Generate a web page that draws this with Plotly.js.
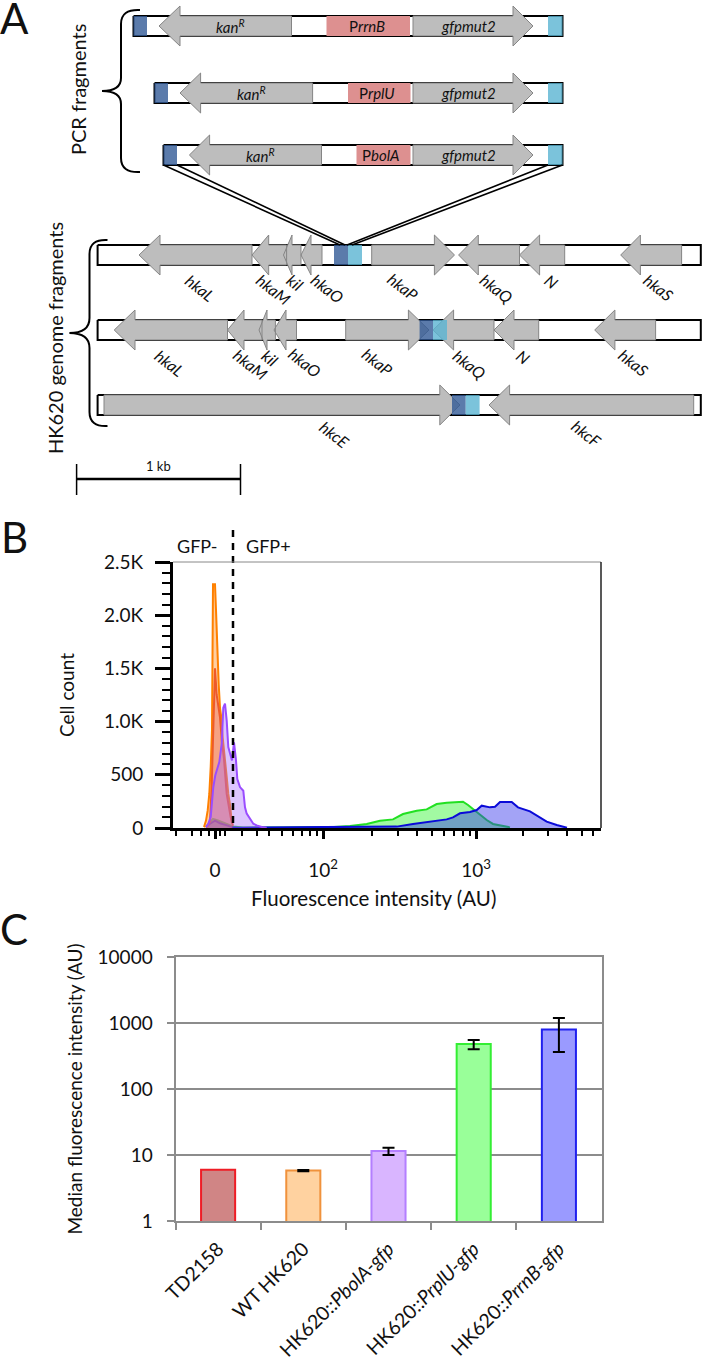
<!DOCTYPE html>
<html><head><meta charset="utf-8">
<script src="https://cdn.plot.ly/plotly-3.0.1.min.js"></script>
<style>html,body{margin:0;padding:0;background:#fff}</style></head>
<body><div id="chart" style="width:702px;height:1362px"></div>
<script>
var FONT='Lato, "Open Sans", sans-serif';
// ---- Panel A data (positions along the drawn map)
var trackCenter=[26,93,155,255,330,405];
var trackStart=[133.5,154.5,163.5,97.6,97.6,97.6];
var trackEnd=[562.5,562.5,562.5,700.8,700.8,700.8];
var geneRow =[0,0, 1,1, 2,2, 3,3,3,3,3,3,3,3, 4,4,4,4,4,4,4,4, 5,5];
var geneTail=[291.5,413, 312.6,413, 321.5,413, 252,286.6,301,322,371.7,519.5,564.7,681.6, 227.5,262,275.4,296.5,345.7,494,538.7,655.6, 104,693.7];
var geneBase=[180,513, 200.6,513, 209.6,513, 160,268.7,292,311,434.4,478.3,539.6,640.4, 135,244,267,286,408.4,453.6,514,614.9, 439.8,509.6];
var geneTip =[159,533, 180,533, 189.4,533, 139,252,283.5,301,454.5,458.6,519.5,620.7, 114.2,227.5,259,274,429,433,494,594.7, 460,489];
var pinkRow=[0,1,2], pinkStart=[326.5,348,356.5], pinkEnd=[410,410.5,410.5];
var blueRow=[0,1,2,3,4,5], blueStart=[133.5,154.5,163.5,334,419.6,452], blueEnd=[147,168,177,348,433,465.7];
var cyanRow=[0,1,2,3,4,5], cyanStart=[548,548,548,348,433,465.7], cyanEnd=[562.5,562.5,562.5,362,447,479.6];
var pcrText=['<i>kan<sup>R</sup></i>','P<i>rrnB</i>','<i>gfpmut2</i>','<i>kan<sup>R</sup></i>','P<i>rplU</i>','<i>gfpmut2</i>','<i>kan<sup>R</sup></i>','P<i>bolA</i>','<i>gfpmut2</i>'];
var pcrTextX=[230,367,468,251,377,468,260,381,468];
var pcrTextY=[26,26,26,93,93,93,155,155,155];
var geneLabel=['hkaL','hkaM','kil','hkaO','hkaP','hkaQ','N','hkaS','hkaL','hkaM','kil','hkaO','hkaP','hkaQ','N','hkaS','hkcE','hkcF'];
var geneLabelX=[200,274,295.6,328,403,497,551.7,659,169,251,270,305,377,470,523,633.7,335,586.7];
var geneLabelY=[287,289,282,288,286,288,281,287,362.7,364,357,362.7,361.7,364,356,362,434,433];
var crossX=[[163.5,340],[177,345],[548,347],[562.5,352]];
var crossY=[165,245];
// ---- Panel B data (x in display channels of the biexponential axis)
var orangeX=[31,33,34.7,36.3,37.7,39,40,42,43,44.3,45.7,47,48.3,49.7,52,53.7,55.3,57,59];
var orangeY=[10,70,165,320,575,920,2290,2290,2050,1600,1350,1130,1040,850,660,480,320,220,40];
var redX=[34,37,38.7,40,42,43.7,47,49,51,53.7,55.7,57.7,60];
var redY=[5,60,400,800,1500,1250,1040,800,650,320,200,100,20];
var purpleX=[33,35.3,37.7,40.3,42.3,44.3,46.3,48.7,50.3,52,53.7,55.3,57,59,61,63,64.3,67,70.3,72,73.7,77,80.3,83.7,88.7,93.7];
var purpleY=[10,40,105,385,495,570,620,790,1130,1170,1010,760,695,635,805,635,460,385,350,195,135,90,40,25,10,3];
var greenX=[33,37,40,45,53,60,70,85,100,110,130,150,157,177,193.7,207,220,230,243.7,253.7,263.7,273.7,283.7,290,295,301,307,313.7,320,328.7,337];
var greenY=[10,55,85,70,40,15,5,3,5,5,8,10,6,19,38,69,81,131,163,175,225,238,244,247,216,169,122,75,38,19,6];
var blueHX=[33,37,42,47,54,59,65,193.7,223.7,240,257,273.7,280,287,297,303.7,308.7,317,322,327,338.7,345,357,365,373.7,383.7,394];
var blueHY=[8,40,70,45,25,8,3,6,13,38,60,81,100,138,150,169,210,194,200,244,244,194,156,113,60,28,3];
var bTickVals=[42,150,303];
var bTickText=['0','10<sup>2</sup>','10<sup>3</sup>'];
var bMinorTicks=[3,19,28,36,47,52,69,84,96,109,120,129,137,144,199,225,244,259,271,281,290,297,350,375,394,409,420];
var bYTickVals=[0,500,1000,1500,2000,2500];
var bYTickText=['0','500','1.0K','1.5K','2.0K','2.5K'];
// ---- Panel C data
var strains=['TD2158','WT HK620','HK620::<i>PbolA-gfp</i>','HK620::<i>PrplU-gfp</i>','HK620::<i>PrrnB-gfp</i>'];
var medians=[6,5.8,11.5,480,800];
var errUp=[NaN,0.15,1.4,72,390];
var errDown=[NaN,0.15,1.5,81,437];
var barFill=['#d08585','#ffd2a0','#d9b5ff','#99ff99','#9a9aff'];
var barLine=['#ee1c25','#f0923c','#b47fff','#33ee33','#2020ee'];
var cYTicks=[1,10,100,1000,10000];

function rowPoly(xs,ys,x0,x1,cy,hb){xs.push(x0,x1,x1,x0,x0,null);ys.push(cy-hb,cy-hb,cy+hb,cy+hb,cy-hb,null);}
function rects(rows,st,en,color,name){var X=[],Y=[];rows.forEach(function(r,i){rowPoly(X,Y,st[i],en[i],trackCenter[r],10);});
  return {x:X,y:Y,xaxis:'x3',yaxis:'y3',mode:'lines',fill:'toself',fillcolor:color,line:{width:0,color:color},hoverinfo:'skip',name:name};}
var tX=[],tY=[];trackCenter.forEach(function(c,i){rowPoly(tX,tY,trackStart[i],trackEnd[i],c,10);});
var aX=[],aY=[];geneTail.forEach(function(t,i){var c=trackCenter[geneRow[i]],b=geneBase[i],p=geneTip[i];
  aX.push(t,b,b,p,b,b,t,t,null);aY.push(c-10,c-10,c-20,c,c+20,c+10,c+10,c-10,null);});
var traces=[];
function hist(x,y,line,fill,name){traces.push({x:x,y:y,xaxis:'x',yaxis:'y',type:'scatter',mode:'lines',line:{shape:'linear',color:line,width:2},fill:'tozeroy',fillcolor:fill,hoverinfo:'skip',name:name});}
hist(greenX,greenY,'#22e022','rgba(70,245,70,0.5)','HK620::PrplU-gfp');
hist(blueHX,blueHY,'#0a0ad8','rgba(50,50,235,0.45)','HK620::PrrnB-gfp');
hist(orangeX,orangeY,'#ff8000','rgba(255,160,70,0.5)','WT HK620');
hist(redX,redY,'#ee5a2a','rgba(225,60,60,0.3)','TD2158');
hist(purpleX,purpleY,'#9a4dff','rgba(170,110,255,0.4)','HK620::PbolA-gfp');
traces.push({x:strains,y:medians,xaxis:'x2',yaxis:'y2',type:'bar',width:0.4,marker:{color:barFill,line:{color:barLine,width:2}},
  error_y:{type:'data',symmetric:false,array:errUp,arrayminus:errDown,color:'#000',thickness:2,width:6},hoverinfo:'skip'});
traces.push({x:tX,y:tY,xaxis:'x3',yaxis:'y3',mode:'lines',fill:'toself',fillcolor:'#fff',line:{color:'#000',width:2},hoverinfo:'skip'});
traces.push(rects(pinkRow,pinkStart,pinkEnd,'#dd9090','promoter'));
traces.push({x:aX,y:aY,xaxis:'x3',yaxis:'y3',mode:'lines',fill:'toself',fillcolor:'#bdbdbd',line:{color:'#858585',width:1},hoverinfo:'skip'});
traces.push(rects(blueRow,blueStart,blueEnd,'rgba(50,90,150,0.8)','left homology'));
traces.push(rects(cyanRow,cyanStart,cyanEnd,'rgba(90,180,210,0.8)','right homology'));
crossX.forEach(function(c){traces.push({x:c,y:crossY,xaxis:'x3',yaxis:'y3',mode:'lines',line:{color:'#000',width:1.6},hoverinfo:'skip'});});
traces.push({x:[233,233],y:[530,830],xaxis:'x3',yaxis:'y3',mode:'lines',line:{color:'#000',width:2.5,dash:'7px,6px'},hoverinfo:'skip'});
traces.push({x:[76.6,240.5],y:[479,479],xaxis:'x3',yaxis:'y3',mode:'lines',line:{color:'#000',width:2.5},hoverinfo:'skip'});
traces.push({x:[76.6,76.6],y:[464,495],xaxis:'x3',yaxis:'y3',mode:'lines',line:{color:'#000',width:1.5},hoverinfo:'skip'});
traces.push({x:[240.5,240.5],y:[464,495],xaxis:'x3',yaxis:'y3',mode:'lines',line:{color:'#000',width:1.5},hoverinfo:'skip'});

function ann(t,x,y,size,extra){var a={text:t,x:x,y:y,xref:'x3',yref:'y3',showarrow:false,xanchor:'center',yanchor:'middle',font:{family:FONT,size:size,color:'#111'}};
  for(var k in (extra||{}))a[k]=extra[k];return a;}
var anns=[ann('A',14,18,42),ann('B',14,537,42),ann('C',14,929,42),
  ann('PCR fragments',78,90,20,{textangle:-90}),ann('HK620 genome fragments',55,338,20,{textangle:-90}),
  ann('1 kb',158,466,13),ann('GFP-',197,546,18),ann('GFP+',268,546,18),
  ann('Fluorescence intensity (AU)',373,898,20.5)];
pcrText.forEach(function(t,i){anns.push(ann(t,pcrTextX[i],pcrTextY[i],15));});
geneLabel.forEach(function(t,i){anns.push(ann('<i>'+t+'</i>',geneLabelX[i],geneLabelY[i],16,{textangle:38}));});

var W=702,H=1362;
function dx(a,b){return [a/W,b/W];} function dy(t,b){return [1-b/H,1-t/H];}
var braceStyle={color:'#000',width:2};
var layout={width:W,height:H,margin:{l:0,r:0,t:0,b:0},paper_bgcolor:'#fff',plot_bgcolor:'rgba(0,0,0,0)',showlegend:false,font:{family:FONT,color:'#111'},
 xaxis:{domain:dx(173,601),range:[0,428],anchor:'y',showgrid:false,zeroline:false,showline:true,linecolor:'#000',linewidth:3,ticks:'outside',ticklen:8,tickwidth:3,tickcolor:'#000',tickmode:'array',tickvals:bTickVals,ticktext:bTickText,tickfont:{size:19},ticklabelstandoff:15,
   minor:{tickmode:'array',tickvals:bMinorTicks,ticks:'outside',ticklen:5,tickwidth:2,tickcolor:'#000',showgrid:false}},
 yaxis:{domain:dy(562,828),range:[0,2500],anchor:'x',showgrid:false,zeroline:false,showline:true,linecolor:'#000',linewidth:3,ticks:'outside',ticklen:15,tickwidth:3,tickcolor:'#000',tickmode:'array',tickvals:bYTickVals,ticktext:bYTickText,tickfont:{size:19},ticklabelstandoff:8,
   minor:{dtick:100,ticks:'outside',ticklen:8,tickwidth:2,tickcolor:'#000',showgrid:false},
   title:{text:'Cell count',font:{size:19},standoff:25}},
 xaxis2:{domain:dx(175.5,601.5),anchor:'y2',type:'category',categoryorder:'array',categoryarray:strains,range:[-0.5,4.5],showgrid:false,zeroline:false,showline:true,mirror:true,linecolor:'#8c8c8c',linewidth:2,ticks:'outside',tickson:'boundaries',ticklen:7,tickwidth:2,tickcolor:'#8c8c8c',tickangle:-45,tickfont:{size:19.5},ticklabelstandoff:7},
 yaxis2:{domain:dy(957,1221),type:'log',range:[0,4],anchor:'x2',showgrid:true,gridcolor:'#8c8c8c',gridwidth:2,zeroline:false,showline:true,mirror:true,linecolor:'#8c8c8c',linewidth:2,ticks:'outside',ticklen:7,tickwidth:2,tickcolor:'#8c8c8c',tickmode:'array',tickvals:cYTicks,ticktext:cYTicks.map(String),tickfont:{size:19},ticklabelstandoff:10,
   title:{text:'Median fluorescence intensity (AU)',font:{size:19},standoff:10}},
 xaxis3:{domain:[0,1],range:[0,W],anchor:'y3',visible:false,fixedrange:true},
 yaxis3:{domain:[0,1],range:[H,0],anchor:'x3',visible:false,fixedrange:true},
 annotations:anns,
 shapes:[
  {type:'line',xref:'x3',yref:'y3',x0:173,x1:601,y0:562,y1:562,line:{color:'#888',width:1}},
  {type:'line',xref:'x3',yref:'y3',x0:601,x1:601,y0:562,y1:828,line:{color:'#222',width:1.5}},
  {type:'path',xref:'x3',yref:'y3',path:'M140,10 Q121,9 121,24 L121,78 Q121,91 102,91 Q121,91 121,104 L121,158 Q121,173 140,172',line:braceStyle},
  {type:'path',xref:'x3',yref:'y3',path:'M107.5,240 Q89.5,239 89.5,254 L89.5,318 Q89.5,333 69.4,333 Q89.5,333 89.5,348 L89.5,412 Q89.5,427 107.5,426',line:braceStyle}
 ]};
Plotly.newPlot('chart',traces,layout,{staticPlot:true,displayModeBar:false});
</script></body></html>
